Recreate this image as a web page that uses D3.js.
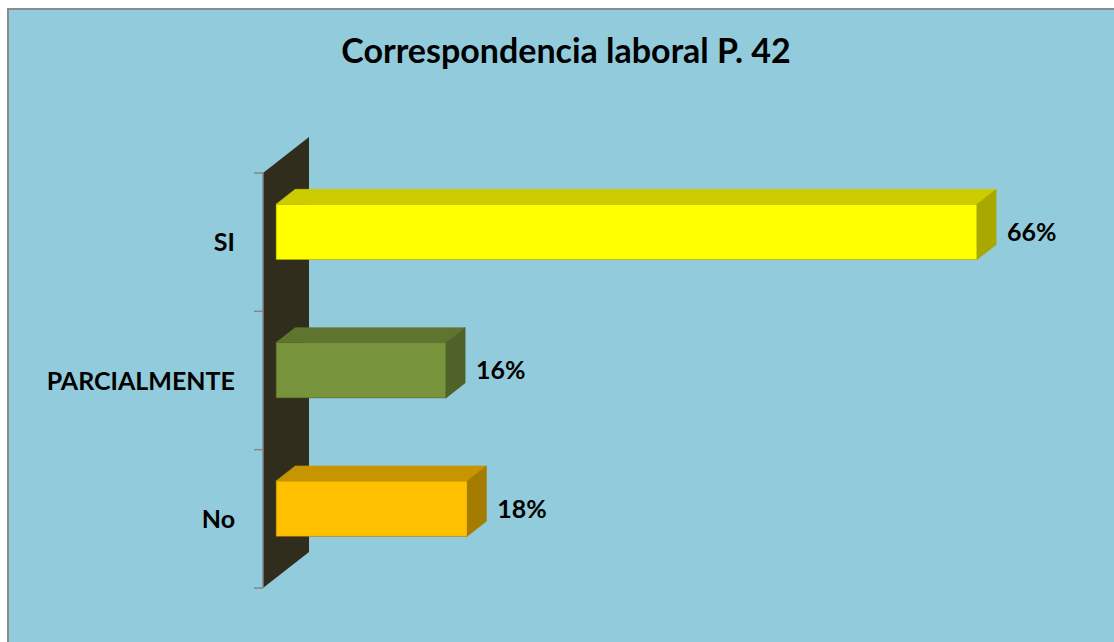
<!DOCTYPE html>
<html>
<head>
<meta charset="utf-8">
<script src="https://cdn.jsdelivr.net/npm/d3@7"></script>
<style>
  html, body { margin: 0; padding: 0; background: #ffffff; }
  svg { display: block; }
</style>
</head>
<body>
<svg id="chart"></svg>
<script>
// Data
const categories = ['SI', 'PARCIALMENTE', 'No'];
const values = [66, 16, 18];
const valueLabels = ['66%', '16%', '18%'];
const title = 'Correspondencia laboral P. 42';

// Face colours per bar: front, top, side
const frontColors = ['#FFFF00', '#77933C', '#FFC000'];
const topColors = ['#CCCC00', '#5E7530', '#C69500'];
const sideColors = ['#A8A800', '#4F6228', '#A47D00'];

const width = 1114, height = 642;
const font = 'Lato, "Open Sans", sans-serif';

const svg = d3.select('#chart')
  .attr('width', width)
  .attr('height', height);

// Chart area with grey border
svg.append('rect')
  .attr('x', 8).attr('y', 9)
  .attr('width', width + 10).attr('height', height + 10)
  .attr('fill', '#92CCDC')
  .attr('stroke', '#8a8a8a')
  .attr('stroke-width', 2);

// Title
svg.append('text')
  .attr('x', 566)
  .attr('y', 63)
  .attr('text-anchor', 'middle')
  .style('font-family', font)
  .style('font-weight', 'bold')
  .style('font-size', '34px')
  .attr('fill', '#000')
  .text(title);

// Plot geometry (front plane) and depth projection
const plot = { left: 263, top: 173, bottom: 588 };
const depth = { dx: 46, dy: -36 };      // wall depth offset
const barDepth = [0.285, 0.70];         // bar sits between these fractions of depth

const x = d3.scaleLinear()
  .domain([0, 100])
  .range([plot.left, plot.left + 1062]);

const y = d3.scaleBand()
  .domain(categories)
  .range([plot.top, plot.bottom])
  .paddingInner(0.6)
  .paddingOuter(0.3);

const g = svg.append('g');

// Side wall (value 0 plane, extended in depth)
g.append('path')
  .attr('d', d3.line()([
    [x(0), plot.top],
    [x(0) + depth.dx, plot.top + depth.dy],
    [x(0) + depth.dx, plot.bottom + depth.dy],
    [x(0), plot.bottom]
  ]) + 'Z')
  .attr('fill', '#302D1D');

// Category axis line and ticks
const tickYs = d3.range(categories.length + 1).map(i => plot.top + i * y.step());
g.append('line')
  .attr('x1', x(0)).attr('x2', x(0))
  .attr('y1', plot.top).attr('y2', plot.bottom)
  .attr('stroke', '#868686').attr('stroke-width', 1.5);
g.selectAll('.tick')
  .data(tickYs)
  .enter().append('line')
  .attr('class', 'tick')
  .attr('x1', x(0) - 9).attr('x2', x(0))
  .attr('y1', d => d).attr('y2', d => d)
  .attr('stroke', '#868686').attr('stroke-width', 1.5);

// Category labels
g.selectAll('.cat')
  .data(categories)
  .enter().append('text')
  .attr('class', 'cat')
  .attr('x', 235)
  .attr('y', d => y(d) + y.bandwidth() / 2)
  .attr('dy', '0.36em')
  .attr('text-anchor', 'end')
  .style('font-family', font)
  .style('font-weight', 'bold')
  .style('font-size', '25px')
  .attr('fill', '#000')
  .text(d => d);

// 3D bars
const f0x = depth.dx * barDepth[0], f0y = depth.dy * barDepth[0];
const bdx = depth.dx * (barDepth[1] - barDepth[0]);
const bdy = depth.dy * (barDepth[1] - barDepth[0]);
const line = d3.line();

const bars = g.selectAll('.bar')
  .data(categories.map((c, i) => ({ c, i, v: values[i] })))
  .enter().append('g')
  .attr('class', 'bar');

bars.each(function (d) {
  const sel = d3.select(this);
  const x0 = x(0) + f0x, x1 = x(d.v) + f0x;
  const y0 = y(d.c) + f0y, y1 = y0 + y.bandwidth();
  // front
  sel.append('rect')
    .attr('x', x0).attr('y', y0)
    .attr('width', x1 - x0).attr('height', y1 - y0)
    .attr('fill', frontColors[d.i])
    .attr('stroke', sideColors[d.i]).attr('stroke-width', 0.6);
  // top
  sel.append('path')
    .attr('d', line([[x0, y0], [x0 + bdx, y0 + bdy], [x1 + bdx, y0 + bdy], [x1, y0]]) + 'Z')
    .attr('fill', topColors[d.i])
    .attr('stroke', topColors[d.i]).attr('stroke-width', 0.6);
  // side
  sel.append('path')
    .attr('d', line([[x1, y0], [x1 + bdx, y0 + bdy], [x1 + bdx, y1 + bdy], [x1, y1]]) + 'Z')
    .attr('fill', sideColors[d.i])
    .attr('stroke', sideColors[d.i]).attr('stroke-width', 0.6);
  // value label
  sel.append('text')
    .attr('x', x1 + bdx + 11)
    .attr('y', y0 + y.bandwidth() / 2)
    .attr('dy', '0.36em')
    .style('font-family', font)
    .style('font-weight', 'bold')
    .style('font-size', '25px')
    .attr('fill', '#000')
    .text(valueLabels[d.i]);
});
</script>
</body>
</html>
